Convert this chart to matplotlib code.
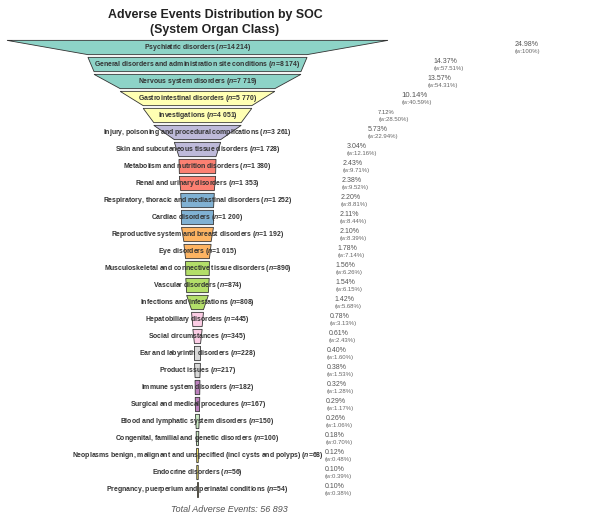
import matplotlib
matplotlib.use("Agg")
import matplotlib.pyplot as plt
from matplotlib.patches import Polygon

plt.rcParams['font.family'] = ['Liberation Sans', 'DejaVu Sans']
plt.rcParams['mathtext.fontset'] = 'custom'
plt.rcParams['mathtext.it'] = 'Liberation Sans:italic:bold'
plt.rcParams['mathtext.rm'] = 'Liberation Sans:bold'

categories = [
    "Psychiatric disorders",
    "General disorders and administration site conditions",
    "Nervous system disorders",
    "Gastrointestinal disorders",
    "Investigations",
    "Injury, poisoning and procedural complications",
    "Skin and subcutaneous tissue disorders",
    "Metabolism and nutrition disorders",
    "Renal and urinary disorders",
    "Respiratory, thoracic and mediastinal disorders",
    "Cardiac disorders",
    "Reproductive system and breast disorders",
    "Eye disorders",
    "Musculoskeletal and connective tissue disorders",
    "Vascular disorders",
    "Infections and infestations",
    "Hepatobiliary disorders",
    "Social circumstances",
    "Ear and labyrinth disorders",
    "Product issues",
    "Immune system disorders",
    "Surgical and medical procedures",
    "Blood and lymphatic system disorders",
    "Congenital, familial and genetic disorders",
    "Neoplasms benign, malignant and unspecified (incl cysts and polyps)",
    "Endocrine disorders",
    "Pregnancy, puerperium and perinatal conditions",
]
counts = [14214, 8174, 7719, 5770, 4051, 3261, 1728, 1380, 1353, 1252, 1200,
          1192, 1015, 890, 874, 808, 445, 345, 228, 217, 182, 167, 150, 100,
          68, 56, 54]
pct_labels = ["24.98%", "14.37%", "13.57%", "10.14%", "7.12%", "5.73%", "3.04%",
              "2.43%", "2.38%", "2.20%", "2.11%", "2.10%", "1.78%", "1.56%",
              "1.54%", "1.42%", "0.78%", "0.61%", "0.40%", "0.38%", "0.32%",
              "0.29%", "0.26%", "0.18%", "0.12%", "0.10%", "0.10%"]
w_labels = ["100%", "57.51%", "54.31%", "40.59%", "28.50%", "22.94%", "12.16%",
            "9.71%", "9.52%", "8.81%", "8.44%", "8.39%", "7.14%", "6.26%",
            "6.15%", "5.68%", "3.13%", "2.43%", "1.60%", "1.53%", "1.28%",
            "1.17%", "1.06%", "0.70%", "0.48%", "0.39%", "0.38%"]
total = 56893

palette = ["#8dd3c7", "#ffffb3", "#bebada", "#fb8072", "#80b1d3", "#fdb462",
           "#b3de69", "#fccde5", "#d9d9d9", "#bc80bd", "#ccebc5", "#ffed6f"]
group_sizes = [3, 2, 2, 2, 2, 2, 3, 2, 2, 2, 2, 3]
colors = []
for c, n in zip(palette, group_sizes):
    colors += [c] * n

pct_sizes = {3: 5.6, 4: 4.2}

fig = plt.figure(figsize=(5.89, 5.15), dpi=100)
ax = fig.add_axes([0, 0, 1, 1])
px_per_unit = 3.81
cx_px = 197.5
ax.set_xlim(-cx_px / px_per_unit, (589 - cx_px) / px_per_unit)
row_px = 17.0
y0_px = 47.5
ax.set_ylim((515 - y0_px) / row_px, -y0_px / row_px)
ax.axis('off')

maxc = counts[0]
widths = [c / maxc * 100 for c in counts]
h = 0.84
n = len(counts)
for i in range(n):
    wt = widths[i]
    wb = widths[i + 1] if i + 1 < n else widths[i]
    poly = Polygon([(-wt / 2, i - h / 2), (wt / 2, i - h / 2),
                    (wb / 2, i + h / 2), (-wb / 2, i + h / 2)],
                   closed=True, facecolor=colors[i], edgecolor='#333333',
                   linewidth=0.6, zorder=2)
    ax.add_patch(poly)
    num = f"{counts[i]:,}".replace(",", " ")
    ax.text(0, i, f"{categories[i]} ($n$={num})", ha='center', va='center',
            fontsize=4.95, fontweight='bold', color='#333333', zorder=3)
    fs = pct_sizes.get(i, 5.0)
    ax.annotate(pct_labels[i], xy=(wt / 2, i), xytext=(91, 2.4),
                textcoords='offset points', ha='left', va='center',
                fontsize=fs, color='#555555')
    ax.annotate(f"(w:{w_labels[i]})", xy=(wt / 2, i),
                xytext=(91, -3.0), textcoords='offset points', ha='left',
                va='center', fontsize=4.3, color='#666666')

fig.text(215 / 589, 1 - 22.5 / 515, "Adverse Events Distribution by SOC\n(System Organ Class)",
         ha='center', va='center', fontsize=8.9, fontweight='bold',
         color='#222222', linespacing=1.25)
fig.text(229 / 589, 1 - 509 / 515, f"Total Adverse Events: {total:,}".replace(",", " "),
         ha='center', va='center', fontsize=6.5, style='italic', color='#555555')

fig.savefig("out.png", dpi=100)
